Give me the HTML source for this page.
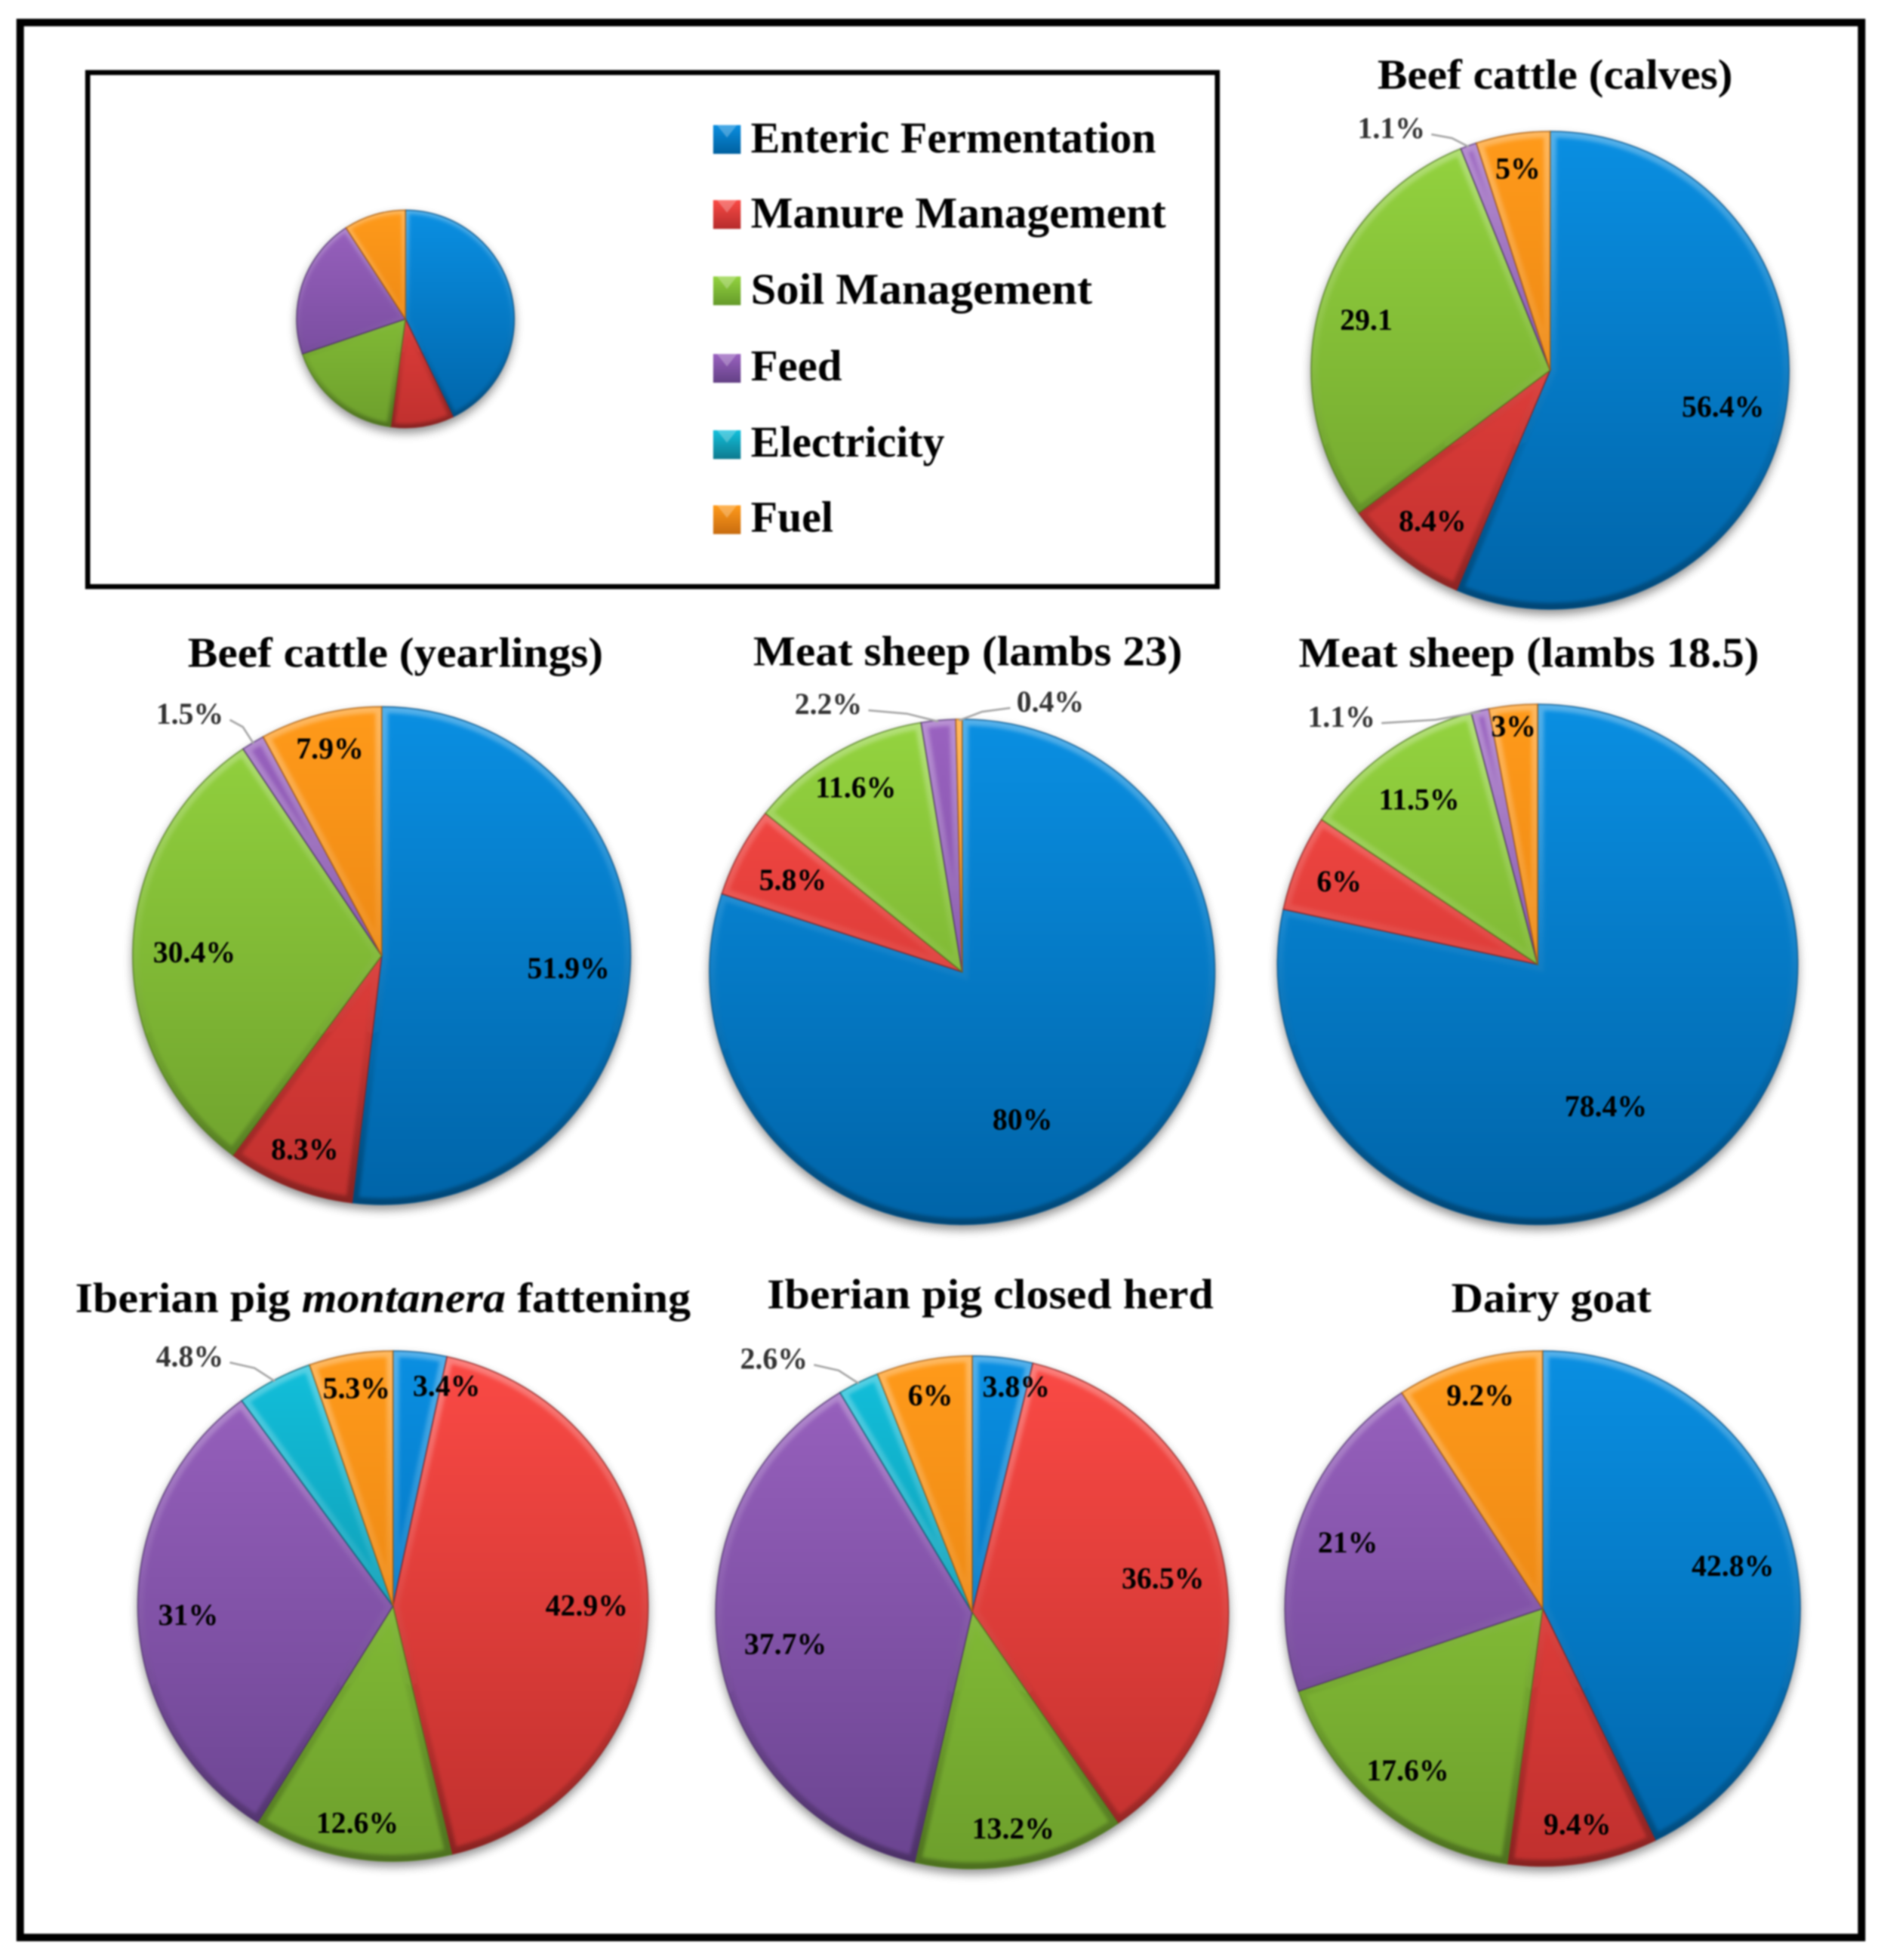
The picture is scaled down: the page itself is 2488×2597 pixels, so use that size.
<!DOCTYPE html>
<html lang="en">
<head>
<meta charset="utf-8">
<title>Greenhouse gas emissions by source for livestock systems</title>
<style>
html,body{margin:0;padding:0;background:#fff;}
#chart{display:block;width:2488px;height:2597px;filter:blur(1px);}
text{font-family:"Liberation Serif","DejaVu Serif",serif;font-weight:bold;fill:#000;}
</style>
</head>
<body>
<svg id="chart" xmlns="http://www.w3.org/2000/svg" viewBox="0 0 1501 1567" width="2488" height="2597">
  <defs id="defs">
    <filter id="shadowBlur" x="-20%" y="-20%" width="140%" height="140%"><feGaussianBlur stdDeviation="4"/></filter>
    <filter id="bevelBlur" x="-10%" y="-10%" width="120%" height="120%"><feGaussianBlur stdDeviation="1.4"/></filter>
    <linearGradient id="sw0" x1="0" y1="0" x2="0" y2="1"><stop offset="0" stop-color="#0a8ee0"/><stop offset="1" stop-color="#00609f"/></linearGradient>
    <linearGradient id="sw1" x1="0" y1="0" x2="0" y2="1"><stop offset="0" stop-color="#fa4a45"/><stop offset="1" stop-color="#b52c2c"/></linearGradient>
    <linearGradient id="sw2" x1="0" y1="0" x2="0" y2="1"><stop offset="0" stop-color="#93d33f"/><stop offset="1" stop-color="#659a2a"/></linearGradient>
    <linearGradient id="sw3" x1="0" y1="0" x2="0" y2="1"><stop offset="0" stop-color="#9a62c0"/><stop offset="1" stop-color="#634085"/></linearGradient>
    <linearGradient id="sw4" x1="0" y1="0" x2="0" y2="1"><stop offset="0" stop-color="#12c0dc"/><stop offset="1" stop-color="#0e7a8e"/></linearGradient>
    <linearGradient id="sw5" x1="0" y1="0" x2="0" y2="1"><stop offset="0" stop-color="#ff9a1a"/><stop offset="1" stop-color="#c86c10"/></linearGradient>
  </defs>

  <rect x="0" y="0" width="1501" height="1567" fill="#fff"/>
  <rect x="16" y="18" width="1472" height="1531" fill="none" stroke="#000" stroke-width="6"/>
  <rect x="70" y="58" width="903" height="411" fill="none" stroke="#000" stroke-width="4"/>

  <g>
    <g>
      <rect x="570" y="100" width="22" height="23" fill="url(#sw0)"/>
      <polygon points="573,100 589,100 581,110" fill="#fff" opacity=".25"/>
      <text x="600" y="122" font-size="35" textLength="324" lengthAdjust="spacingAndGlyphs">Enteric Fermentation</text>
    </g>
    <g>
      <rect x="570" y="160" width="22" height="23" fill="url(#sw1)"/>
      <polygon points="573,160 589,160 581,170" fill="#fff" opacity=".25"/>
      <text x="600" y="182" font-size="35" textLength="332" lengthAdjust="spacingAndGlyphs">Manure Management</text>
    </g>
    <g>
      <rect x="570" y="221" width="22" height="23" fill="url(#sw2)"/>
      <polygon points="573,221 589,221 581,231" fill="#fff" opacity=".25"/>
      <text x="600" y="243" font-size="35" textLength="273" lengthAdjust="spacingAndGlyphs">Soil Management</text>
    </g>
    <g>
      <rect x="570" y="283" width="22" height="23" fill="url(#sw3)"/>
      <polygon points="573,283 589,283 581,293" fill="#fff" opacity=".25"/>
      <text x="600" y="304" font-size="35" textLength="73" lengthAdjust="spacingAndGlyphs">Feed</text>
    </g>
    <g>
      <rect x="570" y="344" width="22" height="23" fill="url(#sw4)"/>
      <polygon points="573,344 589,344 581,354" fill="#fff" opacity=".25"/>
      <text x="600" y="365" font-size="35" textLength="155" lengthAdjust="spacingAndGlyphs">Electricity</text>
    </g>
    <g>
      <rect x="570" y="404" width="22" height="23" fill="url(#sw5)"/>
      <polygon points="573,404 589,404 581,414" fill="#fff" opacity=".25"/>
      <text x="600" y="425" font-size="35" textLength="66" lengthAdjust="spacingAndGlyphs">Fuel</text>
    </g>
  </g>

  <text x="1101" y="71" font-size="34" textLength="284" lengthAdjust="spacingAndGlyphs">Beef cattle (calves)</text>
  <text x="150" y="533" font-size="34" textLength="332" lengthAdjust="spacingAndGlyphs">Beef cattle (yearlings)</text>
  <text x="602" y="532" font-size="34" textLength="343" lengthAdjust="spacingAndGlyphs">Meat sheep (lambs 23)</text>
  <text x="1038" y="533" font-size="34" textLength="368" lengthAdjust="spacingAndGlyphs">Meat sheep (lambs 18.5)</text>
  <text x="60" y="1049" font-size="34" textLength="492" lengthAdjust="spacingAndGlyphs">Iberian pig <tspan font-style="italic">montanera</tspan> fattening</text>
  <text x="613" y="1046" font-size="34" textLength="357" lengthAdjust="spacingAndGlyphs">Iberian pig closed herd</text>
  <text x="1160" y="1049" font-size="34" textLength="160" lengthAdjust="spacingAndGlyphs">Dairy goat</text>

  <g id="pies"></g>
</svg>

<script>
// Category order: clockwise from 12 o'clock
const categories = ["Enteric Fermentation", "Manure Management", "Soil Management", "Feed", "Electricity", "Fuel"];

// Series values (% of total emissions)
const legendPieValues = [42.8, 9.4, 17.6, 21, 0, 9.2];
const beefCalvesValues = [56.4, 8.4, 29.1, 1.1, 0, 5];
const beefYearlingsValues = [51.9, 8.3, 30.4, 1.5, 0, 7.9];
const lambs23Values = [80, 5.8, 11.6, 2.2, 0, 0.4];
const lambs185Values = [78.4, 6, 11.5, 1.1, 0, 3];
const montaneraValues = [3.4, 42.9, 12.6, 31, 4.8, 5.3];
const closedHerdValues = [3.8, 36.5, 13.2, 37.7, 2.6, 6];
const dairyGoatValues = [42.8, 9.4, 17.6, 21, 0, 9.2];

// Layout, kept separate from the data
const topColors = ["#0a8fe2", "#fb4a45", "#94d43f", "#9a62c0", "#12c0dc", "#ff9a1a"];
const bottomColors = ["#0064a8", "#c0302e", "#6d9f2c", "#6a4490", "#0e8095", "#dd7a10"];
const edgeColors = ["#004f86", "#8c2220", "#4f7a1e", "#4c2f6b", "#0a5f70", "#a85a08"];

const pieLayouts = [
  {id: "legend-pie", values: legendPieValues, cx: 324, cy: 255, r: 87, showLabels: false},
  {id: "beef-calves", values: beefCalvesValues, cx: 1239, cy: 296, r: 191, showLabels: true, noPercent: [2],
   callouts: {3: [-62, -14]}},
  {id: "beef-yearlings", values: beefYearlingsValues, cx: 305, cy: 764, r: 199, showLabels: true,
   callouts: {3: [-51, -23]}, nudges: {5: [0, -3]}},
  {id: "lambs-23", values: lambs23Values, cx: 769, cy: 777, r: 202, showLabels: true,
   callouts: {3: [-88, -13], 5: [73, -14]}, nudges: {0: [-49, -17], 1: [4, 1], 2: [-3, -8]}},
  {id: "lambs-18-5", values: lambs185Values, cx: 1229, cy: 771, r: 208, showLabels: true,
   callouts: {3: [-111, 5]}, nudges: {0: [-49, -16], 2: [2, 3], 5: [-2, -10]}},
  {id: "iberian-montanera", values: montaneraValues, cx: 314, cy: 1284, r: 204, showLabels: true,
   callouts: {4: [-68, -19]}, nudges: {0: [24, -1], 5: [0, -2]}},
  {id: "iberian-closed-herd", values: closedHerdValues, cx: 777, cy: 1289, r: 205, showLabels: true,
   callouts: {4: [-68, -19]}, nudges: {0: [14, -5], 3: [4, 0]}},
  {id: "dairy-goat", values: dairyGoatValues, cx: 1233, cy: 1286, r: 206, showLabels: true,
   nudges: {1: [0, -4], 2: [-4, 3], 5: [0, -4]}}
];

const NS = "http://www.w3.org/2000/svg";
const labelSize = 24;
const labelHalfHeight = 8;
const labelMargin = 16;

function make(tag, parent) {
  const el = document.createElementNS(NS, tag);
  parent.appendChild(el);
  return el;
}

// Axis function: cumulative value -> angle (radians clockwise from top)
function angleOf(cumulative, total) {
  return cumulative / total * 2 * Math.PI;
}

function polar(p, radius, angle) {
  return [p.cx + radius * Math.sin(angle), p.cy - radius * Math.cos(angle)];
}

function slicePath(p, a0, a1) {
  const s = polar(p, p.r, a0);
  const e = polar(p, p.r, a1);
  const large = a1 - a0 > Math.PI ? 1 : 0;
  return "M" + p.cx + " " + p.cy + "L" + s[0] + " " + s[1] + "A" + p.r + " " + p.r + " 0 " + large + " 1 " + e[0] + " " + e[1] + "Z";
}

function addStop(grad, offset, color, opacity) {
  const st = make("stop", grad);
  st.setAttribute("offset", offset);
  st.setAttribute("stop-color", color);
  if (opacity !== undefined) st.setAttribute("stop-opacity", opacity);
}

function verticalGradient(id, p) {
  const defs = document.getElementById("defs");
  const g = make("linearGradient", defs);
  g.setAttribute("id", id);
  g.setAttribute("gradientUnits", "userSpaceOnUse");
  g.setAttribute("x1", p.cx);
  g.setAttribute("x2", p.cx);
  g.setAttribute("y1", p.cy - p.r);
  g.setAttribute("y2", p.cy + p.r);
  return g;
}

function drawPie(p) {
  const root = document.getElementById("pies");
  const group = make("g", root);
  
  

  const shadow = make("circle", group);
  
  
  shadow.setAttribute("cx", p.cx);
  shadow.setAttribute("cy", p.cy + 4);
  shadow.setAttribute("r", p.r);
  shadow.setAttribute("fill", "#000");
  shadow.setAttribute("opacity", "0.45");
  shadow.setAttribute("filter", "url(#shadowBlur)");

  const bevel = verticalGradient(p.id + "-bevel", p);
  addStop(bevel, 0, "#ffffff", 0.3);
  addStop(bevel, 0.45, "#ffffff", 0.06);
  addStop(bevel, 0.7, "#000000", 0.08);
  addStop(bevel, 1, "#000000", 0.3);

  const total = p.values.reduce(function (a, b) { return a + b; }, 0);
  let running = 0;
  const labelJobs = [];

  p.values.forEach(function (value, i) {
    const a0 = angleOf(running, total);
    running += value;
    const a1 = angleOf(running, total);
    if (value <= 0) return;
    const d = slicePath(p, a0, a1);

    const grad = verticalGradient(p.id + "-fill-" + i, p);
    addStop(grad, 0, topColors[i]);
    addStop(grad, 1, bottomColors[i]);

    const slice = make("path", group);
    
    
    slice.setAttribute("d", d);
    slice.setAttribute("fill", "url(#" + p.id + "-fill-" + i + ")");

    const clip = make("clipPath", document.getElementById("defs"));
    clip.setAttribute("id", p.id + "-clip-" + i);
    const clipShape = make("path", clip);
    clipShape.setAttribute("d", d);

    const bevelPath = make("path", group);
    
    
    bevelPath.setAttribute("d", d);
    bevelPath.setAttribute("fill", "none");
    bevelPath.setAttribute("stroke", "url(#" + p.id + "-bevel)");
    bevelPath.setAttribute("stroke-width", p.r > 100 ? 10 : 6);
    bevelPath.setAttribute("clip-path", "url(#" + p.id + "-clip-" + i + ")");
    bevelPath.setAttribute("filter", "url(#bevelBlur)");

    const outline = make("path", group);
    
    
    outline.setAttribute("d", d);
    outline.setAttribute("fill", "none");
    outline.setAttribute("stroke", edgeColors[i]);
    outline.setAttribute("stroke-width", "1");
    outline.setAttribute("stroke-opacity", "0.75");

    labelJobs.push({i: i, value: value, mid: (a0 + a1) / 2});
  });

  if (!p.showLabels) return;

  labelJobs.forEach(function (job) {
    const i = job.i;
    const noPct = p.noPercent && p.noPercent.indexOf(i) >= 0;
    const label = make("text", group);
    
    
    label.setAttribute("font-size", labelSize);
    label.setAttribute("text-anchor", "middle");
    label.textContent = String(job.value) + (noPct ? "" : "%");
    const w = label.getComputedTextLength();
    const sinA = Math.sin(job.mid);
    const cosA = Math.cos(job.mid);

    const callout = p.callouts && p.callouts[i];
    let x, y;
    if (callout) {
      const rim = polar(p, p.r - 1, job.mid);
      x = rim[0] + callout[0];
      y = rim[1] + callout[1] - 1;
      label.style.fill = "#333333";
      const side = callout[0] < 0 ? 1 : -1;
      const startX = x + side * (w / 2 + 5);
      const startY = y + 5;
      const elbowX = startX + (rim[0] - startX) * 0.55;
      const elbowY = startY + (rim[1] - startY) * 0.3;
      const leader = make("polyline", group);
      
      
      leader.setAttribute("points", startX + "," + startY + " " + elbowX + "," + elbowY + " " + rim[0] + "," + rim[1]);
      leader.setAttribute("fill", "none");
      leader.setAttribute("stroke", "#a6a6a6");
      leader.setAttribute("stroke-width", "1.6");
    } else {
      const support = Math.abs(sinA) * w / 2 + Math.abs(cosA) * labelHalfHeight;
      const dist = p.r - labelMargin - support;
      const pos = polar(p, dist, job.mid);
      const nudge = (p.nudges && p.nudges[i]) || [0, 0];
      x = pos[0] + nudge[0];
      y = pos[1] + nudge[1] + 1;
    }
    label.setAttribute("x", x);
    label.setAttribute("y", y + 8);
  });
}

pieLayouts.forEach(drawPie);
</script>
</body>
</html>
